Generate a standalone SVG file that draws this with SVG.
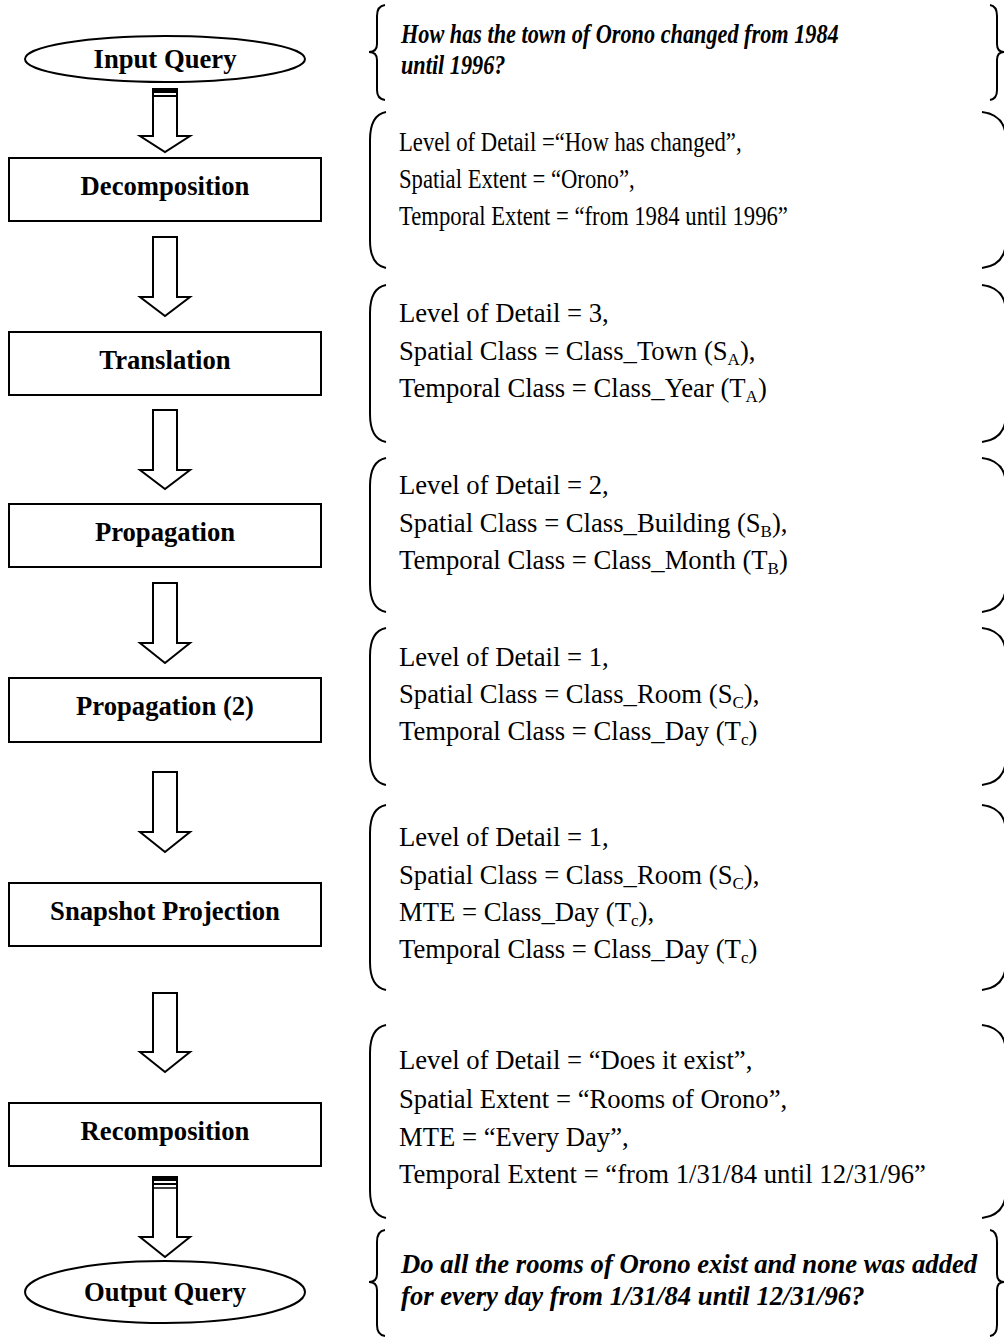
<svg xmlns="http://www.w3.org/2000/svg" width="1004" height="1337" viewBox="0 0 1004 1337">
<style>
.shape{fill:#fff;stroke:#000;stroke-width:2}
.br{fill:none;stroke:#000;stroke-width:2}
.lbl{font-family:"Liberation Serif","Times New Roman",serif;font-weight:bold;font-size:26.67px;text-anchor:middle;fill:#000}
.q{font-family:"Liberation Serif","Times New Roman",serif;font-weight:bold;font-style:italic;font-size:26.67px;fill:#000}
.t{font-family:"Liberation Serif","Times New Roman",serif;font-size:26.67px;fill:#000}
.sub{font-size:17px}
</style>
<rect width="1004" height="1337" fill="#fff"/>
<g id="connectors">
<path class="shape" d="M153 89 L177 89 L177 136 L190 136 L165 152 L140 136 L153 136 Z"/>
<rect x="153" y="89" width="24" height="4" fill="#000"/>
<line x1="153" y1="96" x2="177" y2="96" stroke="#000" stroke-width="2"/>
<path class="shape" d="M153 237 L177 237 L177 297 L190 297 L165 316 L140 297 L153 297 Z"/>
<path class="shape" d="M153 410 L177 410 L177 470 L190 470 L165 489 L140 470 L153 470 Z"/>
<path class="shape" d="M153 583 L177 583 L177 643 L190 643 L165 663 L140 643 L153 643 Z"/>
<path class="shape" d="M153 772 L177 772 L177 832 L190 832 L165 852 L140 832 L153 832 Z"/>
<path class="shape" d="M153 993 L177 993 L177 1052 L190 1052 L165 1072 L140 1052 L153 1052 Z"/>
<path class="shape" d="M153 1177 L177 1177 L177 1237 L190 1237 L165 1257 L140 1237 L153 1237 Z"/>
<rect x="153" y="1177" width="24" height="4" fill="#000"/>
<line x1="153" y1="1184" x2="177" y2="1184" stroke="#000" stroke-width="2"/>
<line x1="153" y1="1188" x2="177" y2="1188" stroke="#000" stroke-width="1.5"/>
</g>
<g id="input-query">
<ellipse class="shape" cx="165" cy="59" rx="140" ry="23"/>
<text class="lbl" x="165" y="68">Input Query</text>
</g>
<g id="decomposition">
<rect class="shape" x="9" y="158" width="312" height="63"/>
<text class="lbl" x="165" y="195">Decomposition</text>
</g>
<g id="translation">
<rect class="shape" x="9" y="332" width="312" height="63"/>
<text class="lbl" x="165" y="369">Translation</text>
</g>
<g id="propagation">
<rect class="shape" x="9" y="504" width="312" height="63"/>
<text class="lbl" x="165" y="541">Propagation</text>
</g>
<g id="propagation-2">
<rect class="shape" x="9" y="678" width="312" height="64"/>
<text class="lbl" x="165" y="715">Propagation (2)</text>
</g>
<g id="snapshot-projection">
<rect class="shape" x="9" y="883" width="312" height="63"/>
<text class="lbl" x="165" y="920">Snapshot Projection</text>
</g>
<g id="recomposition">
<rect class="shape" x="9" y="1103" width="312" height="63"/>
<text class="lbl" x="165" y="1140">Recomposition</text>
</g>
<g id="output-query">
<ellipse class="shape" cx="165" cy="1292" rx="140" ry="31"/>
<text class="lbl" x="165" y="1301">Output Query</text>
</g>
<g id="input-text">
<path class="br" d="M385 5 Q377 6 377 16 L377 44 Q377 52 369 52 Q377 52 377 60 L377 90 Q377 99 385 100"/>
<path class="br" d="M990 5 Q997 6 997 16 L997 44 Q997 52 1004 52 Q997 52 997 60 L997 90 Q997 99 990 100"/>
<g transform="translate(401 0) scale(0.835 1)">
<text class="q" x="0" y="43">How has the town of Orono changed from 1984</text>
<text class="q" x="0" y="74">until 1996?</text>
</g>
</g>
<g id="decomposition-params">
<path class="br" d="M386 112 Q370 115 370 140 L370 240 Q370 265 386 268"/>
<path class="br" d="M982 112 Q1006 115 1006 140 L1006 240 Q1006 265 982 268"/>
<g transform="translate(399 0) scale(0.85 1)">
<text class="t" x="0" y="151">Level of Detail =“How has changed”,</text>
<text class="t" x="0" y="188">Spatial Extent = “Orono”,</text>
<text class="t" x="0" y="225">Temporal Extent = “from 1984 until 1996”</text>
</g>
</g>
<g id="translation-params">
<path class="br" d="M386 285 Q370 288 370 313 L370 414 Q370 439 386 442"/>
<path class="br" d="M982 285 Q1006 288 1006 313 L1006 414 Q1006 439 982 442"/>
<text class="t" x="399" y="322">Level of Detail = 3,</text>
<text class="t" x="399" y="360">Spatial Class = Class_Town (S<tspan class="sub" dy="5">A</tspan><tspan dy="-5">),</tspan></text>
<text class="t" x="399" y="397">Temporal Class = Class_Year (T<tspan class="sub" dy="5">A</tspan><tspan dy="-5">)</tspan></text>
</g>
<g id="propagation-params">
<path class="br" d="M386 458 Q370 461 370 486 L370 584 Q370 609 386 612"/>
<path class="br" d="M982 458 Q1006 461 1006 486 L1006 584 Q1006 609 982 612"/>
<text class="t" x="399" y="494">Level of Detail = 2,</text>
<text class="t" x="399" y="532">Spatial Class = Class_Building (S<tspan class="sub" dy="5">B</tspan><tspan dy="-5">),</tspan></text>
<text class="t" x="399" y="569">Temporal Class = Class_Month (T<tspan class="sub" dy="5">B</tspan><tspan dy="-5">)</tspan></text>
</g>
<g id="propagation-2-params">
<path class="br" d="M386 628 Q370 631 370 656 L370 757 Q370 782 386 785"/>
<path class="br" d="M982 628 Q1006 631 1006 656 L1006 757 Q1006 782 982 785"/>
<text class="t" x="399" y="666">Level of Detail = 1,</text>
<text class="t" x="399" y="703">Spatial Class = Class_Room (S<tspan class="sub" dy="5">C</tspan><tspan dy="-5">),</tspan></text>
<text class="t" x="399" y="740">Temporal Class = Class_Day (T<tspan class="sub" dy="5">c</tspan><tspan dy="-5">)</tspan></text>
</g>
<g id="snapshot-params">
<path class="br" d="M386 805 Q370 808 370 833 L370 962 Q370 987 386 990"/>
<path class="br" d="M982 805 Q1006 808 1006 833 L1006 962 Q1006 987 982 990"/>
<text class="t" x="399" y="846">Level of Detail = 1,</text>
<text class="t" x="399" y="884">Spatial Class = Class_Room (S<tspan class="sub" dy="5">C</tspan><tspan dy="-5">),</tspan></text>
<text class="t" x="399" y="921">MTE = Class_Day (T<tspan class="sub" dy="5">c</tspan><tspan dy="-5">),</tspan></text>
<text class="t" x="399" y="958">Temporal Class = Class_Day (T<tspan class="sub" dy="5">c</tspan><tspan dy="-5">)</tspan></text>
</g>
<g id="recomposition-params">
<path class="br" d="M386 1025 Q370 1028 370 1053 L370 1190 Q370 1215 386 1218"/>
<path class="br" d="M982 1025 Q1006 1028 1006 1053 L1006 1190 Q1006 1215 982 1218"/>
<text class="t" x="399" y="1069">Level of Detail = “Does it exist”,</text>
<text class="t" x="399" y="1108">Spatial Extent = “Rooms of Orono”,</text>
<text class="t" x="399" y="1146">MTE = “Every Day”,</text>
<text class="t" x="399" y="1183">Temporal Extent = “from 1/31/84 until 12/31/96”</text>
</g>
<g id="output-text">
<path class="br" d="M385 1230 Q377 1231 377 1242 L377 1274 Q377 1282 369 1282 Q377 1282 377 1290 L377 1325 Q377 1335 385 1336"/>
<path class="br" d="M990 1230 Q997 1231 997 1242 L997 1274 Q997 1282 1004 1282 Q997 1282 997 1290 L997 1325 Q997 1335 990 1336"/>
<text class="q" x="401" y="1273">Do all the rooms of Orono exist and none was added</text>
<text class="q" x="401" y="1305">for every day from 1/31/84 until 12/31/96?</text>
</g>
</svg>
